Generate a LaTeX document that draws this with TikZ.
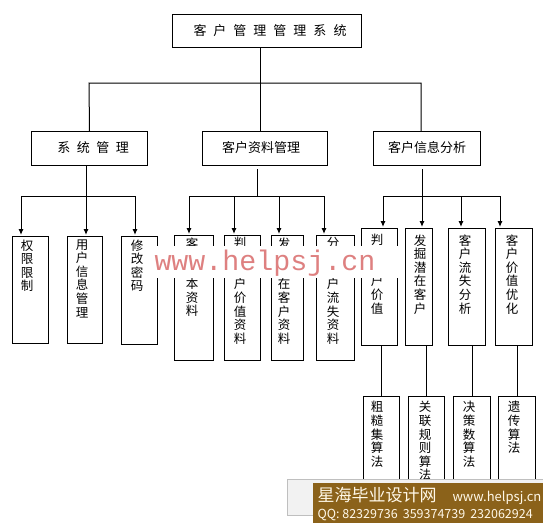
\documentclass[tikz,border=0pt]{standalone}
\usepackage{fontspec}
\newfontfamily\cjk{Noto Sans CJK SC}
\newfontfamily\wmfont{Liberation Mono}
\usetikzlibrary{arrows.meta}
\definecolor{wmred}{RGB}{222,128,128}
\definecolor{bannerbg}{RGB}{139,98,26}
\definecolor{bannertxt}{RGB}{255,248,232}
\begin{document}
\begin{tikzpicture}[x=1pt,y=-1pt,line width=1pt,
  box/.style={draw,line width=1pt,inner sep=0pt,anchor=north west},
  htxt/.style={font=\cjk\fontsize{13}{13}\selectfont,inner sep=0pt},
  vtxt/.style={anchor=north,align=center,inner sep=0pt,font=\cjk\fontsize{12.5}{13.6}\selectfont},
  arr/.style={-{Latex[length=6pt,width=5pt]},shorten >=1pt},
]
\useasboundingbox (0,0) rectangle (543,523);

% top and level 2
\node[box,minimum width=189pt,minimum height=33pt] (T) at (172,14) {};
\node[htxt] (Tt) at (270,30.5) {客\hspace{7pt}户\hspace{7pt}管\hspace{7pt}理\hspace{7pt}管\hspace{7pt}理\hspace{7pt}系\hspace{7pt}统};
\node[box,minimum width=116pt,minimum height=34pt] (A) at (31,131) {};
\node[htxt] (At) at (93,148) {系\hspace{6.5pt}统\hspace{6.5pt}管\hspace{6.5pt}理};
\node[box,minimum width=125pt,minimum height=34pt] (B) at (202,131) {};
\node[htxt] (Bt) at (261,148) {客户资料管理};
\node[box,minimum width=107pt,minimum height=34pt] (C) at (373,131) {};
\node[htxt] (Ct) at (427,148) {客户信息分析};

\coordinate (j0) at (260,83);
\coordinate (jA) at (89,83);
\coordinate (jC) at (421,83);
\draw (j0 |- T.south) -- (j0 |- B.north);
\draw (A.north) -- (jA) -- (jC) -- (jC |- C.north);

% group 1
\node[box,minimum width=36pt,minimum height=107pt] (a1) at (12,236) {};
\node[box,minimum width=35pt,minimum height=107pt] (a2) at (67,236) {};
\node[box,minimum width=36pt,minimum height=108pt] (a3) at (121,236) {};
\node[vtxt] (a1t) at (27,239) {权\\限\\限\\制};
\node[vtxt] (a2t) at (82,239) {用\\户\\信\\息\\管\\理};
\node[vtxt] (a3t) at (137,239) {修\\改\\密\\码};
\coordinate (g1) at (86,196);
\coordinate (g1l) at (21,196);
\coordinate (g1r) at (135,196);
\draw (g1 |- A.south) -- (g1);
\draw (g1l) -- (g1r);
\draw[arr] (g1l) -- (g1l |- a1.north);
\draw[arr] (g1) -- (g1 |- a2.north);
\draw[arr] (g1r) -- (g1r |- a3.north);

% group 2
\node[box,minimum width=39pt,minimum height=125pt] (b1) at (174,235) {};
\node[box,minimum width=36pt,minimum height=125pt] (b2) at (224,235) {};
\node[box,minimum width=32pt,minimum height=125pt] (b3) at (271,235) {};
\node[box,minimum width=38pt,minimum height=125pt] (b4) at (316,235) {};
\node[vtxt] (b1h) at (192,237) {客};
\node[vtxt] (b1t) at (192,277.8) {本\\资\\料};
\node[vtxt] (b2h) at (240,237) {判};
\node[vtxt] (b2t) at (240,277.8) {户\\价\\值\\资\\料};
\node[vtxt] (b3h) at (284,237) {发};
\node[vtxt] (b3t) at (284,277.8) {在\\客\\户\\资\\料};
\node[vtxt] (b4h) at (333,237) {分};
\node[vtxt] (b4t) at (333,277.8) {户\\流\\失\\资\\料};
\coordinate (g2t) at (257,169);
\coordinate (g2) at (257,196);
\coordinate (g2a) at (189,196);
\coordinate (g2b) at (234,196);
\coordinate (g2c) at (279,196);
\coordinate (g2d) at (324,196);
\draw (g2t) -- (g2);
\draw (g2a) -- (g2d);
\draw[arr] (g2a) -- (g2a |- b1.north);
\draw[arr] (g2b) -- (g2b |- b2.north);
\draw[arr] (g2c) -- (g2c |- b3.north);
\draw[arr] (g2d) -- (g2d |- b4.north);

% group 3
\node[box,minimum width=36pt,minimum height=117pt] (c1) at (361,228) {};
\node[box,minimum width=27pt,minimum height=117pt] (c2) at (405,228) {};
\node[box,minimum width=37pt,minimum height=117pt] (c3) at (448,228) {};
\node[box,minimum width=37pt,minimum height=117pt] (c4) at (495,228) {};
\node[vtxt] (c1h) at (377,234) {判};
\node[vtxt] (c1t) at (377,274.8) {户\\价\\值};
\node[vtxt] (c2t) at (420,234) {发\\掘\\潜\\在\\客\\户};
\node[vtxt] (c3t) at (465,234) {客\\户\\流\\失\\分\\析};
\node[vtxt] (c4t) at (512,234) {客\\户\\价\\值\\优\\化};
\coordinate (g3t) at (422,169);
\coordinate (g3) at (422,196);
\coordinate (g3a) at (383,196);
\coordinate (g3c) at (461,196);
\coordinate (g3d) at (500,196);
\draw (g3t) -- (g3);
\draw (g3a) -- (g3d);
\draw[arr] (g3a) -- (g3a |- c1.north);
\draw[arr] (g3) -- (g3 |- c2.north);
\draw[arr] (g3c) -- (g3c |- c3.north);
\draw[arr] (g3d) -- (g3d |- c4.north);

% level 4
\node[box,minimum width=36pt,minimum height=110pt] (d1) at (363,396) {};
\node[box,minimum width=36pt,minimum height=110pt] (d2) at (408,396) {};
\node[box,minimum width=37pt,minimum height=110pt] (d3) at (453,396) {};
\node[box,minimum width=37pt,minimum height=110pt] (d4) at (498,396) {};
\node[vtxt] (d1t) at (377,401) {粗\\糙\\集\\算\\法};
\node[vtxt] (d2t) at (425,401) {关\\联\\规\\则\\算\\法};
\node[vtxt] (d3t) at (469,401) {决\\策\\数\\算\\法};
\node[vtxt] (d4t) at (514,401) {遗\\传\\算\\法};
\draw (d1.north) -- (d1.north |- c1.south);
\draw (d2.north) -- (d2.north |- c2.south);
\draw (d3.north) -- (d3.north |- c3.south);
\draw (d4.north) -- (d4.north |- c4.south);

% watermark
\fill[white] (148,246) rectangle (400,278);
\node[anchor=base west,inner sep=0pt,text=wmred,font=\wmfont\fontsize{28.3}{28.3}\selectfont] (wm) at (154,270) {www.helpsj.cn};

% banner
\draw[draw=black!25,fill=black!5] (287,479) rectangle (543,515);
\fill[bannerbg] (313,483) rectangle (543,523);
\node[anchor=west,inner sep=0pt,text=bannertxt,font=\cjk\fontsize{17}{17}\selectfont] (bn1) at (317,495) {星海毕业设计网};
\node[anchor=base west,inner sep=0pt,text=bannertxt,font=\cjk\fontsize{13}{13}\selectfont] (bn2) at (452,501) {www.helpsj.cn};
\node[anchor=base west,inner sep=0pt,text=bannertxt,font=\cjk\fontsize{12.5}{12.5}\selectfont] (bn3) at (317,518) {QQ: 82329736\hspace{5pt}359374739\hspace{5pt}232062924};
\end{tikzpicture}
\end{document}
